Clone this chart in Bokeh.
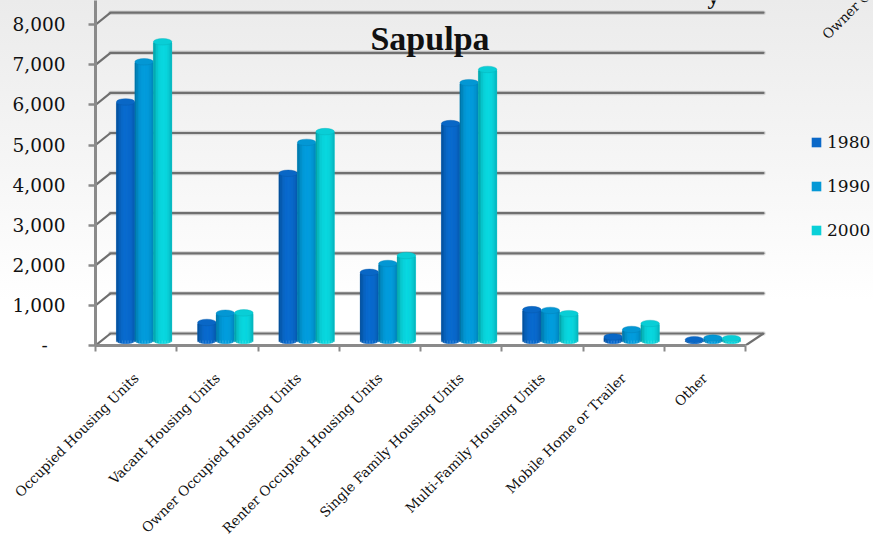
from bokeh.embed import file_html
from bokeh.resources import INLINE
from bokeh.plotting import figure
from bokeh.models import Range1d, FixedTicker, Legend, LegendItem, LinearAxis
from bokeh.core.properties import value
import math

categories = ["Occupied Housing Units", "Vacant Housing Units", "Owner Occupied Housing Units",
              "Renter Occupied Housing Units", "Single Family Housing Units",
              "Multi-Family Housing Units", "Mobile Home or Trailer", "Other"]
years = ["1980", "1990", "2000"]
units_1980 = [5950, 450, 4170, 1700, 5410, 770, 90, 20]
units_1990 = [6950, 680, 4940, 1920, 6430, 750, 275, 60]
units_2000 = [7450, 690, 5210, 2120, 6760, 670, 425, 50]
y_ticks = [0, 1000, 2000, 3000, 4000, 5000, 6000, 7000, 8000]
base_colors = [(10, 104, 200), (4, 152, 214), (10, 208, 216)]

# Plot-area geometry: one category is 81.25 px wide, 1000 units are 40.1 px tall.
PX_X = 1 / 81.25
PX_Y = 1000 / 40.1
FRAME_W, FRAME_H = 778, 345

FONT = "DejaVu Serif"
AXIS_GREY = "#8a8a8a"
GRID_GREY = "#6f6f6f"

p = figure(width=873, height=535, frame_width=FRAME_W, frame_height=FRAME_H,
           output_backend="svg", toolbar_location=None,
           x_range=Range1d(0, FRAME_W * PX_X), y_range=Range1d(0, FRAME_H * PX_Y),
           min_border_left=95, min_border_right=0, min_border_top=0, min_border_bottom=0,
           x_axis_location=None, y_axis_location=None,
           background_fill_alpha=0, border_fill_alpha=0, outline_line_color=None)
p.styles = {"background": "linear-gradient(to bottom, #ebebeb 0px, #f6f6f6 170px, #ffffff 300px, #ffffff 535px)"}
p.xgrid.visible = False
p.ygrid.visible = False

# Back wall: gridlines set back in depth, joined to the front axis by short diagonals.
wall_dx, wall_dy = 15 * PX_X, 12 * PX_Y
right_end = len(categories)
for v in y_ticks:
    for w, a in ((4.5, 0.22), (2.2, 1.0)):
        p.line([wall_dx, right_end + 18 * PX_X], [v + wall_dy, v + wall_dy],
               line_color=GRID_GREY, line_width=w, line_alpha=a, line_cap="round")
    p.line([0, wall_dx], [v, v + wall_dy], line_color=GRID_GREY, line_width=2.2)
p.line([right_end, right_end + 18 * PX_X], [0, wall_dy], line_color=GRID_GREY, line_width=2.2)


def shade(rgb, t):
    """Cylinder shading: t runs from -1 at the left edge to 1 at the right edge."""
    light = 1.04 - 0.24 * abs(t - 0.1) ** 2.4
    return "#%02x%02x%02x" % tuple(min(255, int(c * light)) for c in rgb)


# Bars sit at mid-depth of the floor, so they are shifted from the front axis.
bar_w = 18.5 * PX_X
bar_dx = 8 * PX_X
bar_base = 5 * PX_Y
cap_h = 6.5
strips = 12
legend_items = []
for s, (year, vals, rgb) in enumerate(zip(years, (units_1980, units_1990, units_2000), base_colors)):
    centres = [i + 0.5 + bar_dx + (s - 1) * bar_w for i in range(len(vals))]
    tops = [v + bar_base for v in vals]
    body = p.vbar(x=centres, top=tops, bottom=bar_base, width=bar_w,
                  fill_color="#%02x%02x%02x" % rgb, line_color=None)
    legend_items.append(LegendItem(label=year, renderers=[body]))
    for k in range(strips):
        t0, t1 = -1 + 2 * k / strips, -1 + 2 * (k + 1) / strips
        tm = (t0 + t1) / 2
        sag = math.sqrt(1 - tm * tm) * (cap_h / 2) * PX_Y
        lefts = [c + t0 * bar_w / 2 for c in centres]
        rights = [c + t1 * bar_w / 2 for c in centres]
        p.quad(left=lefts, right=rights, top=[t - sag for t in tops],
               bottom=bar_base - sag, fill_color=shade(rgb, tm),
               line_color=shade(rgb, tm), line_width=0.3)
    p.ellipse(x=centres, y=tops, width=bar_w, height=cap_h, height_units="screen",
              fill_color=shade(rgb, 0.6), line_color=shade(rgb, 1), line_width=0.4)

# Front value axis.
y_labels = {v: f"{v:,}" for v in y_ticks}
y_labels[0] = "-\u00a0\u00a0\u00a0"
yaxis = LinearAxis(ticker=FixedTicker(ticks=y_ticks),
                   major_label_overrides=y_labels,
                   major_label_text_font=FONT, major_label_text_font_size="18.5px",
                   major_label_text_color="#111111", major_label_standoff=23,
                   axis_line_color=AXIS_GREY, axis_line_width=3,
                   major_tick_line_color=AXIS_GREY, major_tick_line_width=2.5,
                   major_tick_in=0, major_tick_out=7,
                   minor_tick_line_color=None)
p.add_layout(yaxis, "left")

# Front category axis: names at the centres, tick marks on the boundaries.
centre_ticks = [i + 0.5 for i in range(len(categories))]
edge_ticks = list(range(len(categories) + 1))
xaxis = LinearAxis(ticker=FixedTicker(ticks=centre_ticks, minor_ticks=edge_ticks),
                   bounds=(0, right_end),
                   major_label_overrides={c: n for c, n in zip(centre_ticks, categories)},
                   major_label_orientation=math.pi / 4,
                   major_label_text_font=FONT, major_label_text_font_size="13.6px",
                   major_label_text_color="#111111", major_label_standoff=24,
                   major_tick_line_color=None, major_tick_in=0, major_tick_out=0,
                   axis_line_color=AXIS_GREY, axis_line_width=3,
                   minor_tick_line_color=AXIS_GREY, minor_tick_line_width=2,
                   minor_tick_in=0, minor_tick_out=6)
p.add_layout(xaxis, "below")

# Title inside the plot, plus the neighbouring chart's texts cut off by the page edge.
p.text(x=[(429.5 - 95) * PX_X], y=[(345 - 38) * PX_Y], text=["Sapulpa"],
       text_font=value("Liberation Serif"), text_font_style="bold", text_font_size="34px",
       text_align="center", text_baseline="middle", text_color="#111111")
p.text(x=[(824 - 95) * PX_X], y=[(345 - 36) * PX_Y], text=["Owner Occupied Housing Units"],
       angle=math.pi / 4, text_font=value(FONT), text_font_size="13.6px",
       text_align="left", text_baseline="middle", text_color="#111111")
p.text(x=[(713 - 95) * PX_X], y=[(345 + 5) * PX_Y], text=["y"],
       text_font=value("Liberation Serif"), text_font_style="bold", text_font_size="24px",
       text_align="center", text_baseline="alphabetic", text_color="#111111")

legend = Legend(items=legend_items, location=(715, 105), orientation="vertical",
                background_fill_alpha=0, border_line_color=None,
                glyph_width=12, glyph_height=12, spacing=24, padding=0, margin=0,
                label_standoff=5, label_text_font=FONT, label_text_font_size="17px",
                label_text_color="#111111")
p.add_layout(legend, "center")

open("out.html", "w").write(file_html(p, INLINE))
